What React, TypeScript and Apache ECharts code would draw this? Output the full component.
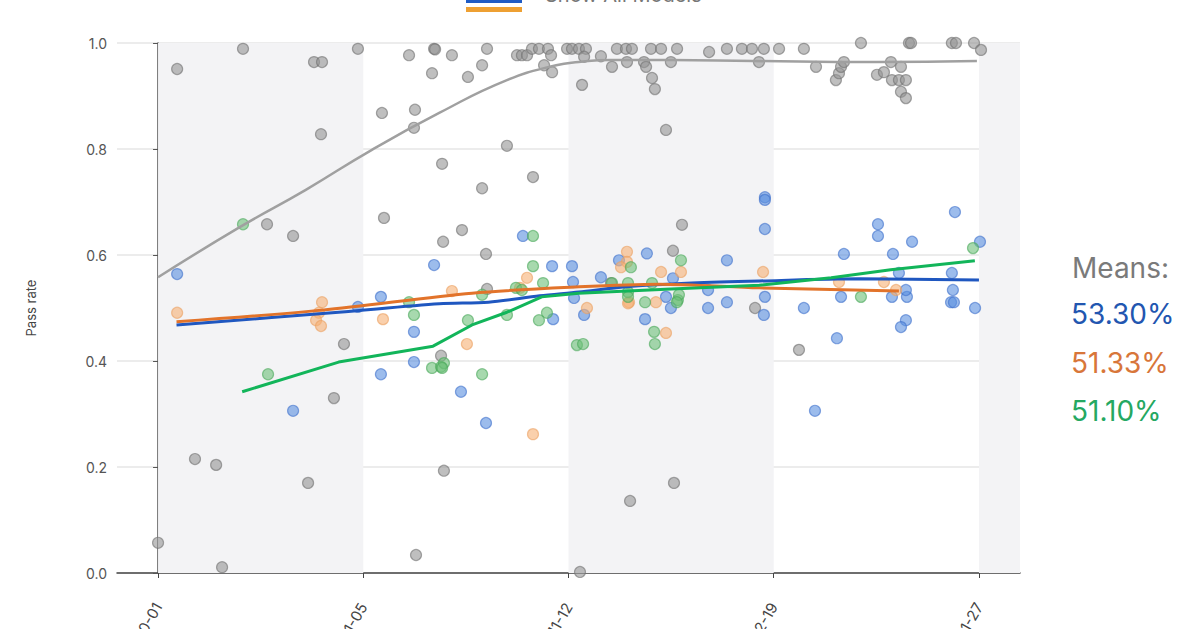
import React, { useEffect, useRef } from "react";
import * as echarts from "echarts";

// x positions: 0..4 are the labelled dates
const xTickValues = [0, 1, 2, 3, 4];
const xTickLabels = ["2024-10-01", "2024-11-05", "2024-11-12", "2024-12-19", "2025-01-27"];
const bandRanges = [[0, 1], [2, 3], [4, 4.2]];

const grayPoints = [
  [0.0, 0.057], [0.093, 0.951], [0.18, 0.215], [0.283, 0.204], [0.312, 0.011], [0.414, 0.989],
  [0.531, 0.658], [0.658, 0.636], [0.731, 0.17], [0.76, 0.964], [0.799, 0.964], [0.794, 0.828],
  [0.857, 0.33], [0.906, 0.432], [0.974, 0.989], [1.091, 0.868], [1.101, 0.67], [1.223, 0.977],
  [1.252, 0.874], [1.247, 0.84], [1.257, 0.034], [1.345, 0.989], [1.35, 0.988], [1.335, 0.943],
  [1.384, 0.772], [1.389, 0.625], [1.393, 0.193], [1.379, 0.41], [1.432, 0.977], [1.481, 0.647],
  [1.51, 0.936], [1.579, 0.958], [1.603, 0.989], [1.579, 0.726], [1.598, 0.602], [1.603, 0.536],
  [1.7, 0.806], [1.827, 0.747], [1.749, 0.977], [1.773, 0.977], [1.798, 0.977], [1.822, 0.989],
  [1.856, 0.989], [1.9, 0.989], [1.915, 0.977], [1.881, 0.958], [1.92, 0.945], [1.993, 0.989],
  [2.017, 0.989], [2.051, 0.989], [2.085, 0.989], [2.076, 0.974], [2.066, 0.921], [2.056, 0.002],
  [2.158, 0.975], [2.212, 0.955], [2.236, 0.989], [2.28, 0.989], [2.309, 0.989], [2.285, 0.964],
  [2.368, 0.964], [2.378, 0.955], [2.402, 0.989], [2.451, 0.989], [2.407, 0.934], [2.421, 0.913],
  [2.475, 0.836], [2.499, 0.964], [2.529, 0.989], [2.553, 0.657], [2.509, 0.608], [2.514, 0.17],
  [2.3, 0.136], [2.207, 0.547], [2.685, 0.983], [2.772, 0.989], [2.845, 0.989], [2.894, 0.989],
  [2.928, 0.964], [2.952, 0.989], [3.026, 0.989], [2.909, 0.5], [3.147, 0.989], [3.206, 0.955],
  [3.123, 0.421], [3.303, 0.93], [3.318, 0.943], [3.328, 0.955], [3.342, 0.964], [3.425, 1.0],
  [3.503, 0.94], [3.537, 0.945], [3.571, 0.964], [3.576, 0.93], [3.61, 0.93], [3.644, 0.93],
  [3.62, 0.955], [3.62, 0.908], [3.644, 0.896], [3.659, 1.0], [3.669, 1.0], [3.868, 1.0],
  [3.888, 1.0], [3.976, 1.0], [4.01, 0.987]
];

const bluePoints = [
  [0.093, 0.564], [0.658, 0.306], [0.974, 0.502], [1.086, 0.521], [1.086, 0.375], [1.247, 0.455],
  [1.247, 0.398], [1.345, 0.581], [1.476, 0.342], [1.598, 0.283], [1.778, 0.636], [1.92, 0.579],
  [2.017, 0.579], [1.925, 0.479], [2.022, 0.549], [2.027, 0.519], [2.076, 0.487], [2.158, 0.558],
  [2.246, 0.59], [2.382, 0.603], [2.373, 0.479], [2.499, 0.5], [2.509, 0.556], [2.475, 0.521],
  [2.68, 0.5], [2.68, 0.534], [2.772, 0.59], [2.772, 0.511], [2.957, 0.649], [2.957, 0.709],
  [2.957, 0.704], [2.957, 0.521], [2.952, 0.487], [3.147, 0.5], [3.201, 0.306], [3.308, 0.443],
  [3.342, 0.602], [3.328, 0.521], [3.508, 0.658], [3.508, 0.636], [3.581, 0.602], [3.674, 0.625],
  [3.576, 0.521], [3.644, 0.477], [3.62, 0.464], [3.649, 0.521], [3.644, 0.534], [3.61, 0.566],
  [3.883, 0.681], [3.868, 0.566], [3.873, 0.534], [3.864, 0.511], [3.878, 0.511], [3.981, 0.5],
  [4.005, 0.625]
];

const orangePoints = [
  [0.093, 0.491], [0.799, 0.511], [0.784, 0.491], [0.77, 0.477], [0.794, 0.466], [1.096, 0.479],
  [1.432, 0.532], [1.505, 0.432], [1.798, 0.557], [1.827, 0.262], [1.764, 0.538], [2.285, 0.606],
  [2.285, 0.587], [2.256, 0.577], [2.451, 0.568], [2.475, 0.453], [2.426, 0.511], [2.295, 0.511],
  [2.09, 0.5], [2.548, 0.568], [2.29, 0.509], [2.948, 0.568], [3.318, 0.549], [3.596, 0.534],
  [3.537, 0.549]
];

const greenPoints = [
  [0.414, 0.658], [0.536, 0.375], [1.247, 0.487], [1.223, 0.511], [1.335, 0.387], [1.379, 0.389],
  [1.393, 0.396], [1.384, 0.387], [1.51, 0.477], [1.579, 0.375], [1.579, 0.525], [1.7, 0.487],
  [1.827, 0.636], [1.827, 0.579], [1.744, 0.538], [1.773, 0.534], [1.876, 0.547], [1.895, 0.491],
  [1.856, 0.477], [2.041, 0.43], [2.212, 0.547], [2.29, 0.547], [2.29, 0.53], [2.29, 0.521],
  [2.304, 0.577], [2.417, 0.455], [2.421, 0.432], [2.373, 0.511], [2.407, 0.547], [2.548, 0.59],
  [2.533, 0.515], [2.071, 0.432], [2.538, 0.525], [2.528, 0.511], [3.425, 0.521], [3.971, 0.613]
];

const grayTrend = [
  [0, 0.558], [0.4, 0.653], [0.72, 0.723], [1.04, 0.798], [1.37, 0.868], [1.7, 0.93],
  [1.94, 0.958], [2.05, 0.964], [2.2, 0.968], [2.5, 0.968], [2.9, 0.966], [3.5, 0.964], [3.99, 0.966]
];
const blueTrend = [
  [0.09, 0.468], [0.88, 0.492], [1.37, 0.508], [1.61, 0.511], [1.86, 0.523], [2.05, 0.53],
  [2.28, 0.54], [2.6, 0.547], [2.93, 0.551], [3.42, 0.555], [4.0, 0.553]
];
const orangeTrend = [
  [0.09, 0.474], [0.8, 0.496], [1.53, 0.528], [2.05, 0.54], [2.44, 0.545], [2.93, 0.538], [3.61, 0.532]
];
const greenTrend = [
  [0.41, 0.342], [0.88, 0.398], [1.34, 0.428], [1.53, 0.468], [1.7, 0.492], [1.87, 0.521],
  [2.05, 0.528], [2.5, 0.536], [2.93, 0.543], [3.28, 0.557], [3.57, 0.572], [3.98, 0.589]
];

const meansLabels = ["53.30%", "51.33%", "51.10%"];
const meansColors = ["#2256b0", "#d8763a", "#25a862"];

const FONT = "Inter, 'Noto Sans', sans-serif";

function scatter(name: string, data: number[][], color: string, border: string, opacity: number) {
  return {
    name,
    type: "scatter",
    data,
    symbol: "circle",
    symbolSize: 11,
    itemStyle: { color, opacity, borderColor: border, borderWidth: 1.2 },
    z: 3,
  };
}

function trend(name: string, data: number[][], color: string, width: number, smooth: boolean | number, z: number) {
  return {
    name,
    type: "line",
    data,
    smooth,
    showSymbol: false,
    symbol: "none",
    lineStyle: { color, width },
    z,
  };
}

export default function App() {
  const ref = useRef<HTMLDivElement>(null);
  useEffect(() => {
    if (!ref.current) return;
    const chart = echarts.init(ref.current, undefined, { renderer: "svg" });
    const option = {
      animation: false,
      backgroundColor: "#ffffff",
      grid: { left: 117, right: 180, top: 43, bottom: 56, containLabel: false, outerBoundsMode: "none" },
      xAxis: {
        type: "value",
        min: -0.2,
        max: 4.2,
        splitLine: { show: false },
        axisLine: { show: true, lineStyle: { color: "#444", width: 1.5 } },
        axisTick: { show: true, customValues: xTickValues, length: 5, lineStyle: { color: "#444" } },
        axisLabel: {
          customValues: xTickValues,
          formatter: (v: number) => xTickLabels[Math.round(v)] ?? "",
          rotate: 60,
          margin: 31,
          fontSize: 15,
          color: "#444",
          fontFamily: FONT,
        },
      },
      yAxis: {
        type: "value",
        min: 0,
        max: 1,
        interval: 0.2,
        name: "Pass rate",
        nameLocation: "middle",
        nameGap: 80,
        nameTextStyle: { fontSize: 13, color: "#444", fontFamily: FONT },
        splitLine: { show: true, lineStyle: { color: "#e6e6e6", width: 1.5 } },
        axisLine: { show: true, lineStyle: { color: "#555", width: 1.5 } },
        axisTick: { show: true, length: 5, lineStyle: { color: "#555" } },
        axisLabel: {
          formatter: (v: number) => v.toFixed(1),
          fontSize: 14,
          color: "#555",
          margin: 10,
          fontFamily: FONT,
        },
      },
      graphic: [
        { type: "rect", shape: { x: 466, y: -6, width: 56, height: 9 }, style: { fill: "#1f5bc4" } },
        { type: "rect", shape: { x: 466, y: 7, width: 56, height: 5 }, style: { fill: "#eea032" } },
        {
          type: "text",
          x: 545,
          y: 5,
          style: { text: "Show All Models", fill: "#777", font: `20px ${FONT}`, textVerticalAlign: "bottom" },
        },
        {
          type: "text",
          x: 1072,
          y: 268,
          style: { text: "Means:", fill: "#7a7a7a", font: `28px ${FONT}`, textVerticalAlign: "middle" },
        },
        ...meansLabels.map((t, i) => ({
          type: "text",
          x: 1071,
          y: 314 + i * 48.5,
          style: { text: t, fill: meansColors[i], font: `28px ${FONT}`, textVerticalAlign: "middle" },
        })),
      ],
      series: [
        {
          name: "bands",
          type: "scatter",
          data: [],
          silent: true,
          z: 0,
          markArea: {
            silent: true,
            itemStyle: { color: "#f3f3f5" },
            data: bandRanges.map((r) => [{ xAxis: r[0], yAxis: 0 }, { xAxis: r[1], yAxis: 1 }]),
          },
        },
        scatter("All models", grayPoints, "#959595", "#707070", 0.6),
        trend("All trend", grayTrend, "#a0a0a0", 2.5, true, 4),
        scatter("Blue", bluePoints, "#5a8fe0", "#3d6fcc", 0.6),
        scatter("Orange", orangePoints, "#f6b074", "#eba060", 0.6),
        scatter("Green", greenPoints, "#6cbf78", "#4aa85a", 0.6),
        trend("Blue trend", blueTrend, "#1f57c0", 3, 0.3, 5),
        trend("Orange trend", orangeTrend, "#e2732a", 3, 0.3, 6),
        trend("Green trend", greenTrend, "#12b55a", 3, false, 7),
      ],
    };
    chart.setOption(option as any);
    return () => chart.dispose();
  }, []);
  return <div ref={ref} style={{ position: "fixed", left: 0, top: 0, width: 1200, height: 629 }} />;
}
